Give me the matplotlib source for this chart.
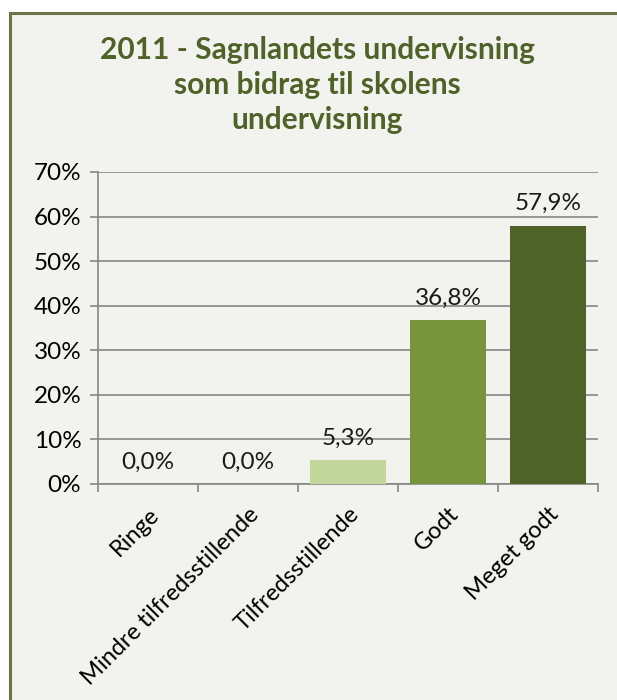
import matplotlib.pyplot as plt
import numpy as np
from matplotlib.patches import Rectangle

categories = ["Ringe", "Mindre tilfredsstillende", "Tilfredsstillende", "Godt", "Meget godt"]
values = [0.0, 0.0, 5.3, 36.8, 57.9]
bar_colors = ["#C3D69B", "#C3D69B", "#C3D69B", "#77933C", "#4F6228"]
title = "2011 - Sagnlandets undervisning\nsom bidrag til skolens\nundervisning"

plt.rcParams["font.family"] = ["Lato", "DejaVu Sans"]

fig = plt.figure(figsize=(6.17, 7.0), dpi=100)
fig.patch.set_facecolor("white")
# chart frame
fig.patches.append(Rectangle((10 / 617, -0.01), 1.0, (700 - 13) / 700 + 0.01,
                             transform=fig.transFigure, facecolor="#F2F2EE",
                             edgecolor="#6B7445", linewidth=2.2, zorder=-5))

ax = fig.add_axes([98 / 617, 1 - 484 / 700, 500 / 617, 312 / 700])
ax.set_zorder(2)
ax.set_facecolor("none")
x = np.arange(len(categories))
ax.bar(x, values, width=0.76, color=bar_colors, zorder=3)

for xi, v in zip(x, values):
    ax.text(xi, v + 2.6, f"{v:.1f}%".replace(".", ","), ha="center", va="bottom",
            fontsize=17.5, color="#1a1a1a")

ax.set_xlim(-0.5, len(categories) - 0.5)
ax.set_ylim(0, 70)
ax.set_yticks(np.arange(0, 71, 10))
ax.set_yticklabels([f"{t}%" for t in range(0, 71, 10)], fontsize=17.5)
ax.yaxis.grid(True, color="#868686", linewidth=1.2, zorder=1)
ax.set_axisbelow(True)

ax.set_xticks(np.arange(-0.5, len(categories), 1.0), minor=False)
ax.set_xticklabels([])
ax.set_xticks(x, minor=True)
ax.set_xticklabels(categories, minor=True, rotation=45, ha="right",
                   rotation_mode="anchor", fontsize=17)
ax.tick_params(axis="x", which="minor", length=0, pad=14)
ax.tick_params(axis="x", which="major", length=6, color="#868686", width=1.2)
ax.tick_params(axis="y", length=6, color="#868686", width=1.2, pad=6)

for s in ["top", "right"]:
    ax.spines[s].set_visible(False)
for s in ["left", "bottom"]:
    ax.spines[s].set_color("#868686")
    ax.spines[s].set_linewidth(1.2)

fig.text(317 / 617, 1 - 36 / 700, title, ha="center", va="top", fontsize=21.5,
         fontweight="bold", color="#4F6228", linespacing=1.3)

fig.savefig("out.png", dpi=100)
